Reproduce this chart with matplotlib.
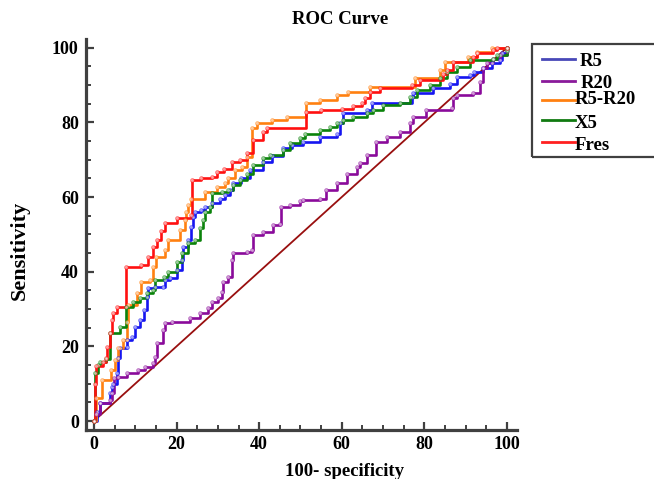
import matplotlib
matplotlib.use("Agg")
import matplotlib.pyplot as plt
from matplotlib.ticker import MultipleLocator
from matplotlib.lines import Line2D
from matplotlib.patches import Rectangle

# ---------------- data (100-specificity, sensitivity) ----------------
r5_x = [0, 0.7, 1.5, 3.9, 4.3, 4.7, 5.5, 5.9, 6.3, 7.9, 8.1, 9.1, 9.9, 11.1, 12.1, 12.8, 13.1, 14.8,
        16.8, 17.2, 18.4, 20, 21.2, 21.6, 22.8, 23.5, 24, 24.5, 26, 26.9, 28.5, 30.5, 31.7, 32.9, 33.7,
        35.5, 37.8, 41, 43, 45.8, 48, 50.7, 54.7, 58.8, 59.6, 60.4, 66, 67.2, 76.9, 77.3, 82.2, 86.2,
        87.8, 91, 92, 94.3, 96.3, 98.3, 98.7, 100]
r5_y = [0, 2.5, 4.8, 7.4, 9.2, 10, 12.8, 16.8, 19.5, 19.9, 21.7, 22.6, 25.3, 27, 29.7, 33.3, 35.5, 35.8,
        36, 37.8, 38.2, 40.4, 43.1, 46.7, 48.5, 52, 54.7, 56, 56.5, 57.4, 58.3, 59.6, 60.5, 61.9, 63.7,
        65, 67.2, 69.5, 71, 73, 74, 74.8, 76.2, 77, 79.7, 82.4, 83.3, 85.1, 86.9, 87.8, 89.1, 90.4,
        92.2, 92.7, 93.6, 94.5, 95.8, 96.7, 98.5, 100]

r20_x = [0, 0.5, 1.5, 3.9, 4.3, 4.9, 5.9, 7.9, 10.7, 12.3, 14.4, 14.8, 15.2, 16.8, 17.2, 18.8, 23.2,
         25.7, 27.7, 28.5, 30.1, 30.9, 31.3, 32.5, 33.3, 33.7, 37, 38.2, 38.6, 41, 43.4, 45, 45.4, 47.5,
         49.9, 50.7, 54.7, 56.3, 58.8, 61.2, 63.6, 64.4, 66, 68.4, 70.9, 74.1, 76.5, 77.3, 80.5, 86.6,
         87, 87.8, 91.8, 93.5, 94.3, 95.1, 96.7, 98.3, 100, 100]
r20_y = [0, 2, 4.7, 5.6, 7.4, 11.4, 11.9, 12.8, 13.7, 14.5, 15.5, 17.2, 20.8, 24.4, 26.2, 26.6, 27.5,
         28.8, 30.2, 32, 32.9, 34.6, 37.3, 38.7, 43.1, 44.9, 45.4, 45.8, 49.8, 50.7, 52.5, 52.9, 57.4, 57.9,
         58.8, 59.2, 59.6, 61.9, 63.7, 66.3, 68.1, 69, 71.3, 74.8, 76.2, 77.5, 79.7, 81.5, 83.3, 83.8,
         86.4, 87.3, 87.8, 90.9, 94.5, 95.8, 97.1, 98, 99.1, 100]

r5r20_x = [0, 0.6, 1.9, 4.1, 5.1, 5.9, 7.1, 7.9, 8.2, 10.3, 11.5, 13.6, 14.4, 15.1, 17.2, 18, 20.8, 22,
           22.4, 22.8, 23.6, 26.9, 29.7, 31.7, 32.5, 34.1, 35.8, 37, 38.2, 39.4, 43, 46.7, 51.3, 54.7,
           58.8, 61.6, 66.8, 77.7, 83.8, 85, 90.5, 92.7, 96.3, 100]
r5r20_y = [0, 6.1, 11, 13.7, 16.3, 19.5, 21.7, 26.6, 31, 34.2, 37.3, 37.8, 41.3, 44, 45.8, 48.5, 51.2, 53.8,
           56, 57.9, 59.6, 61.4, 62.8, 63.7, 65, 67.2, 68.1, 70.8, 78.4, 79.7, 80.5, 81.5, 85.1, 86,
           87.3, 88.2, 89.6, 91.8, 94, 96.2, 97.6, 98.9, 100, 100]

x5_x = [0, 0.2, 1.0, 1.5, 3.0, 3.9, 6.3, 7.7, 9.5, 11.1, 12.8, 14.4, 14.8, 17.0, 18, 20, 21.2, 22.8, 24.5,
        25.7, 26.5, 26.9, 28.1, 28.5, 30.9, 32.5, 33.7, 35.4, 37, 38.6, 41, 42.6, 45.8, 47.5, 49.9, 51.1,
        54.7, 57.1, 58.8, 60.4, 62.8, 66, 67.6, 70, 74.1, 76.5, 78.1, 81.4, 83.8, 85.4, 87.8, 91, 96.7,
        97.5, 100, 100]
x5_y = [0, 12.9, 15, 15.9, 16.5, 23.6, 25.3, 30.6, 31.8, 32.9, 34.2, 35.1, 37.8, 38.5, 40, 42.7, 44.9, 47.6,
        48.5, 51.6, 53.8, 56, 57.4, 61, 61.4, 61.9, 63.2, 64.6, 66.3, 68.6, 70.4, 71.3, 72.6, 74.4, 75.7,
        77, 78, 78.8, 79.7, 80.6, 81.5, 82.4, 83.3, 84.6, 85.1, 86.9, 88.7, 90, 91.8, 93.6, 94.9, 96.7,
        97.1, 98, 99.4, 100]

fres_x = [0, 0.3, 0.6, 2.3, 2.8, 3.2, 3.9, 4.3, 4.6, 5.5, 7.7, 11.5, 13.1, 14.3, 15.3, 16.3, 17.2, 20.0,
          23.5, 23.8, 26.0, 28.5, 29.7, 31.5, 33.3, 35.4, 37, 38.5, 40.9, 41.8, 51.3, 55, 60, 62.7, 64.8,
          65.6, 66.8, 69.2, 76.9, 78.9, 84.5, 85.5, 87, 91.8, 92.7, 96.6, 97.6, 100]
fres_y = [0, 10, 14.7, 15.9, 17, 19.9, 23.6, 27, 29, 30.6, 41.2, 41.8, 44, 46.5, 48.5, 51, 53, 54.4,
          55.2, 64.6, 65.0, 65.4, 66.8, 67.5, 69.5, 70, 71.8, 75.3, 77.5, 78.6, 82.9, 83.3, 83.7, 84.3,
          85.1, 86.5, 88.2, 89.1, 90, 91.3, 93, 94, 96.2, 97.5, 98.5, 99.4, 100, 100]

ref_x = [0, 100]
ref_y = [0, 100]

labels = ["R5", "R20", "R5-R20", "X5", "Fres"]
curve_colors = ["#1515f0", "#8a0a9a", "#ff8010", "#0a820a", "#ff1010"]
legend_colors = ["#4848b8", "#8a1a9a", "#ff8010", "#107a10", "#ff2020"]
series = [(r5_x, r5_y), (r20_x, r20_y), (r5r20_x, r5r20_y), (x5_x, x5_y), (fres_x, fres_y)]

# ---------------- figure ----------------
W, H = 654, 479
fig = plt.figure(figsize=(W / 100, H / 100), dpi=100)
serif = ["Liberation Serif", "DejaVu Serif"]

ax = fig.add_axes([85.7 / W, 1 - 430 / H, 431 / W, 391 / H])
ax.set_xlim(-2.0, 102.35)
ax.set_ylim(-2.41, 102.33)

ax.plot(ref_x, ref_y, color="#990f0f", lw=1.3, zorder=2)
for (xs, ys), c in zip(series, curve_colors):
    ax.plot(xs, ys, drawstyle="steps-post", color=c, lw=1.9, zorder=3)
    ax.plot(xs, ys, ls="none", marker="o", ms=2.6, mfc="white", mec=c, mew=0.7,
            alpha=0.6, zorder=4)

for s in ["top", "right"]:
    ax.spines[s].set_visible(False)
for s in ["left", "bottom"]:
    ax.spines[s].set_color("#404040")
    ax.spines[s].set_linewidth(2.3)

ax.xaxis.set_major_locator(MultipleLocator(20))
ax.xaxis.set_minor_locator(MultipleLocator(5))
ax.yaxis.set_major_locator(MultipleLocator(20))
ax.yaxis.set_minor_locator(MultipleLocator(5))
ax.tick_params(which="major", direction="in", length=6, width=1.6, color="#404040", pad=4)
ax.tick_params(which="minor", direction="in", length=3.5, width=1.4, color="#404040")
ax.tick_params(axis="y", which="major", pad=5)
fig.canvas.draw()
for lab in ax.get_xticklabels() + ax.get_yticklabels():
    lab.set_family(serif)
    lab.set_fontweight("bold")
    lab.set_fontsize(13)
xt = ax.get_xticklabels()
if xt:
    xt[0].set_horizontalalignment("right")

fig.text(340 / W, 1 - 20 / H, "ROC Curve", family=serif, fontweight="bold", fontsize=13.5,
         ha="center", va="center")
fig.text(344.5 / W, 1 - 472 / H, "100- specificity", family=serif, fontweight="bold", fontsize=13.5,
         ha="center", va="center")
fig.text(20 / W, 1 - 250 / H, "Sensitivity", family=serif, fontweight="bold", fontsize=16,
         ha="center", va="center", rotation=90)

# ---------------- legend (manual, box runs off the right edge) ----------------
fig.patches.append(Rectangle((531.7 / W, 1 - 156.7 / H), 140 / W, (156.7 - 44) / H,
                             transform=fig.transFigure, fill=False, ec="#404040", lw=1.6))
line_y = [59.3, 80.7, 100.0, 120.0, 142.3]
text_pos = [(580, 62), (581, 84), (575, 100), (575, 123), (575, 145)]
for lab, c, ly, (tx, ty) in zip(labels, legend_colors, line_y, text_pos):
    fig.add_artist(Line2D([542 / W, 575 / W], [1 - ly / H, 1 - ly / H], transform=fig.transFigure,
                          color=c, lw=2.0))
    fig.text(tx / W, 1 - ty / H, lab, family=serif, fontweight="bold", fontsize=13.5,
             ha="left", va="center")

fig.savefig("out.png", dpi=100)
